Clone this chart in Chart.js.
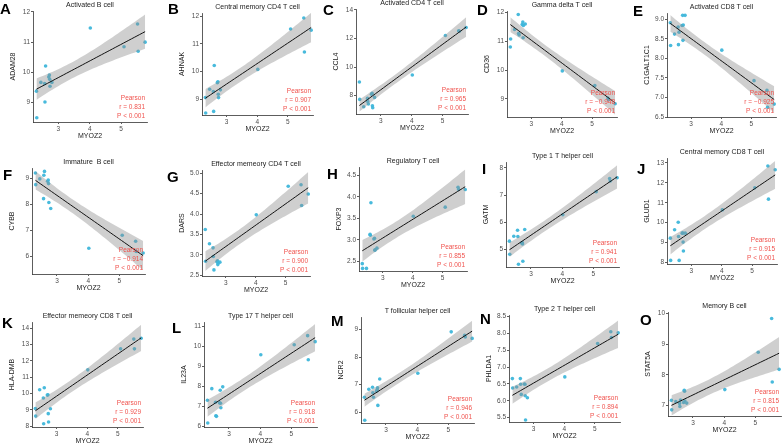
<!DOCTYPE html>
<html>
<head>
<meta charset="utf-8">
<script src="https://cdn.jsdelivr.net/npm/chart.js@4.4.1/dist/chart.umd.min.js"></script>
<style>
  html, body { margin: 0; padding: 0; background: #fff; overflow: hidden; }
  #fig { position: relative; width: 783px; height: 445px; font-family: "Liberation Sans", Arial, sans-serif; }
  #fig canvas { position: absolute; }
  .letter { position: absolute; font-weight: bold; font-size: 15px; line-height: 15px; color: #000; }
</style>
</head>
<body>
<div id="fig"></div>
<script>
// MYOZ2 expression, shared x of every panel (16 samples)
const myoz2 = [2.31, 2.32, 2.45, 2.57, 2.58, 2.60, 2.70, 2.72, 2.73, 2.74, 2.80, 4.02, 5.09, 5.52, 5.54, 5.76];

const letters = ['A', 'B', 'C', 'D', 'E', 'F', 'G', 'H', 'I', 'J', 'K', 'L', 'M', 'N', 'O'];
const cellTypes = ['Activated B cell', 'Central memory CD4 T cell', 'Activated CD4 T cell', 'Gamma delta T cell',
  'Activated CD8 T cell', 'Immature  B cell', 'Effector memeory CD4 T cell', 'Regulatory T cell',
  'Type 1 T helper cell', 'Central memory CD8 T cell', 'Effector memeory CD8 T cell', 'Type 17 T helper cell',
  'T follicular helper cell', 'Type 2 T helper cell', 'Memory B cell'];
const genes = ['ADAM28', 'AHNAK', 'CCL4', 'CD36', 'C1GALT1C1', 'CYBB', 'DARS', 'FOXP3', 'GATM', 'GLUD1',
  'HLA-DMB', 'IL23A', 'NCR2', 'PHLDA1', 'STAT5A'];
const pearsonR = ['0.831', '0.907', '0.965', '\u22120.948', '\u22120.925', '\u22120.914', '0.900', '0.855',
  '0.941', '0.915', '0.929', '0.918', '0.946', '0.894', '0.815'];

// y axis ranges and tick steps
const yMin  = [8.36, 8.43, 6.72, 8.37, 6.5, 5.33, 2.48, 2.28, 4.36, 7.92, 7.94, 5.97, 5.6, 5.37, 6.66];
const yMax  = [12.03, 12.12, 14.05, 12.05, 9.16, 9.41, 5.08, 4.69, 8.22, 13.25, 14.39, 11.2, 9.46, 8.55, 10.05];
const yStep = [1, 1, 2, 1, 0.5, 1, 0.5, 0.5, 1, 1, 1, 1, 1, 0.5, 1];

// expression of each gene, same sample order as myoz2
const adam28    = [9.38, 8.50, 9.67, 9.63, 9.02, 10.21, 9.85, 9.91, 9.77, 9.54, 9.67, 11.47, 10.85, 11.60, 10.70, 11.00];
const ahnak     = [9.06, 8.50, 9.36, 9.28, 8.56, 10.22, 9.60, 9.63, 9.18, 9.06, 9.34, 10.08, 11.54, 11.94, 10.71, 11.50];
const ccl4      = [8.95, 7.74, 7.23, 7.81, 7.60, 7.42, 8.10, 8.16, 7.30, 7.16, 7.88, 9.44, 12.20, 12.53, 12.50, 12.76];
const cd36      = [10.80, 11.08, 11.41, 11.93, 11.27, 11.22, 11.58, 11.67, 11.12, 11.55, 11.60, 9.97, 9.46, 9.03, 8.97, 8.83];
const c1galt1c1 = [8.91, 8.33, 8.62, 8.80, 8.35, 8.67, 8.84, 9.10, 8.46, 8.85, 9.10, 8.21, 7.43, 7.18, 6.75, 6.83];
const cybb      = [9.22, 8.77, 8.99, 8.23, 9.13, 9.28, 8.90, 8.95, 8.81, 8.08, 7.85, 6.32, 6.82, 6.59, 6.20, 6.14];
const dars      = [3.62, 2.84, 3.27, 3.17, 2.96, 2.63, 2.83, 2.85, 2.76, 2.80, 2.82, 3.98, 4.68, 4.72, 4.21, 4.49];
const foxp3     = [2.45, 2.34, 2.34, 3.13, 3.11, 3.86, 3.02, 3.04, 2.76, 2.77, 2.81, 3.55, 3.76, 4.22, 4.17, 4.17];
const gatm      = [5.31, 4.83, 5.49, 5.71, 5.48, 4.46, 5.24, 5.26, 5.21, 4.57, 5.74, 6.28, 7.13, 7.61, 7.52, 7.64];
const glud1     = [9.22, 8.10, 9.64, 10.02, 9.30, 8.10, 9.47, 9.47, 9.02, 8.57, 9.47, 10.64, 11.75, 12.85, 11.18, 12.66];
const hladmb    = [9.08, 8.61, 10.23, 9.72, 8.14, 10.35, 9.90, 9.92, 8.76, 8.25, 9.06, 11.45, 12.74, 13.34, 12.74, 13.39];
const il23a     = [7.30, 6.17, 7.88, 7.20, 6.53, 6.50, 7.17, 7.80, 7.15, 6.93, 7.97, 9.57, 10.07, 10.52, 9.32, 10.22];
const ncr2      = [6.54, 5.70, 6.83, 6.90, 6.70, 6.54, 6.76, 6.82, 6.88, 6.24, 7.20, 7.41, 8.92, 8.79, 8.73, 8.68];
const phlda1    = [6.66, 6.38, 6.41, 6.66, 6.49, 6.19, 6.50, 6.49, 6.15, 5.43, 6.09, 6.71, 7.70, 8.05, 7.88, 8.02];
const stat5a    = [7.17, 6.86, 7.13, 7.07, 6.97, 7.18, 7.10, 7.50, 7.47, 7.15, 7.08, 7.52, 8.74, 9.84, 7.77, 8.18];
const geneValues = [adam28, ahnak, ccl4, cd36, c1galt1c1, cybb, dars, foxp3, gatm, glud1, hladmb, il23a, ncr2, phlda1, stat5a];

// plot area of each panel [left, top, right, bottom] and panel letter [left, capTop]
const plotBoxes = [
  [33, 11, 148, 122], [202, 13, 314, 115], [356, 9, 469, 114], [507, 11, 618, 117], [667, 13, 777, 117],
  [32, 168, 146, 274], [202, 170, 311, 276], [359, 167, 468, 271], [506, 162, 620, 267], [667, 158, 778, 264],
  [32, 322, 144, 427], [204, 322, 318, 427], [361, 317, 475, 423], [509, 315, 621, 422], [668, 312, 782, 416]
];
const letterPos = [
  [0, 3], [168, 3], [323, 4], [477, 4], [633, 5],
  [3, 169], [167, 171], [327, 168], [482, 163], [637, 163],
  [2, 317], [172, 322], [331, 315], [480, 313], [640, 314]
];

const Y_AXIS_W = 28, X_AXIS_H = 22, PAD_TOP = 12, PAD_RIGHT = 3;
const T_975_DF14 = 2.145;

Chart.defaults.font.family = '"Liberation Sans", Arial, sans-serif';

// linear fit with 95% confidence band, like geom_smooth(method = "lm")
function linearFit(xs, ys) {
  const n = xs.length;
  const mx = xs.reduce((a, b) => a + b, 0) / n;
  const my = ys.reduce((a, b) => a + b, 0) / n;
  let sxx = 0, sxy = 0;
  xs.forEach((x, i) => { sxx += (x - mx) ** 2; sxy += (x - mx) * (ys[i] - my); });
  const b = sxy / sxx, a = my - b * mx;
  let sse = 0;
  xs.forEach((x, i) => { sse += (ys[i] - a - b * x) ** 2; });
  const s = Math.sqrt(sse / (n - 2));
  const lo = Math.min(...xs), hi = Math.max(...xs);
  const line = [], upper = [], lower = [];
  const steps = 40;
  for (let k = 0; k <= steps; k++) {
    const x = lo + (hi - lo) * k / steps;
    const y = a + b * x;
    const se = s * Math.sqrt(1 / n + (x - mx) ** 2 / sxx);
    line.push({ x, y });
    upper.push({ x, y: y + T_975_DF14 * se });
    lower.push({ x, y: y - T_975_DF14 * se });
  }
  return { line, upper, lower };
}

// panel title above the plot and the red Pearson note in the corner
const panelText = {
  id: 'panelText',
  afterDraw(chart, args, opts) {
    const { ctx, chartArea: a } = chart;
    ctx.save();
    ctx.font = '7px "Liberation Sans", Arial, sans-serif';
    ctx.textBaseline = 'middle';
    ctx.textAlign = 'center';
    ctx.fillStyle = '#222';
    ctx.fillText(opts.title, (a.left + a.right) / 2, a.top - 6);
    ctx.font = '6.5px "Liberation Sans", Arial, sans-serif';
    ctx.textAlign = 'right';
    ctx.fillStyle = '#f0524d';
    opts.lines.forEach((t, i) => ctx.fillText(t, a.right - 2, a.bottom - 6 - (opts.lines.length - 1 - i) * 8.7));
    ctx.restore();
  }
};

const fig = document.getElementById('fig');

geneValues.forEach((ys, p) => {
  const [pl, pt, pr, pb] = plotBoxes[p];
  const left = pl - Y_AXIS_W, top = pt - PAD_TOP;
  const width = pr + PAD_RIGHT - left, height = pb + X_AXIS_H - top;

  const canvas = document.createElement('canvas');
  canvas.width = width;
  canvas.height = height;
  canvas.style.left = left + 'px';
  canvas.style.top = top + 'px';
  canvas.style.width = width + 'px';
  canvas.style.height = height + 'px';
  fig.appendChild(canvas);

  const letter = document.createElement('div');
  letter.className = 'letter';
  letter.textContent = letters[p];
  letter.style.left = letterPos[p][0] + 'px';
  letter.style.top = (letterPos[p][1] - 2) + 'px';
  fig.appendChild(letter);

  const fit = linearFit(myoz2, ys);
  const points = myoz2.map((x, i) => ({ x, y: ys[i] }));
  const decimals = yStep[p] < 1 ? 1 : 0;

  const axisGrid = { display: true, drawOnChartArea: false, drawTicks: true, tickLength: 2, color: '#333', lineWidth: 0.8 };
  const axisBorder = { display: true, color: '#333', width: 0.8 };
  const tickFont = { size: 6.5 };

  new Chart(canvas, {
    type: 'scatter',
    data: {
      datasets: [
        { type: 'line', data: fit.upper, borderWidth: 0, borderColor: 'transparent', pointRadius: 0, fill: false, order: 1 },
        { type: 'line', data: fit.lower, borderWidth: 0, borderColor: 'transparent', pointRadius: 0, fill: '-1',
          backgroundColor: 'rgba(140,140,140,0.42)', order: 1 },
        { type: 'line', data: fit.line, borderColor: '#111', borderWidth: 1, pointRadius: 0, fill: false, order: 0 },
        { data: points, backgroundColor: 'rgba(62,182,218,0.95)', borderWidth: 0, pointRadius: 1.8, order: 2 }
      ]
    },
    options: {
      responsive: false,
      animation: false,
      devicePixelRatio: 1,
      events: [],
      layout: { padding: { top: PAD_TOP, right: PAD_RIGHT, left: 0, bottom: 0 } },
      plugins: {
        legend: { display: false },
        tooltip: { enabled: false },
        panelText: { title: cellTypes[p], lines: ['Pearson', 'r = ' + pearsonR[p], 'P < 0.001'] }
      },
      scales: {
        x: {
          type: 'linear', min: 2.2, max: 5.82,
          grid: axisGrid, border: axisBorder,
          ticks: { stepSize: 1, includeBounds: false, padding: 1, color: '#4d4d4d', font: tickFont, maxRotation: 0 },
          title: { display: true, text: 'MYOZ2', color: '#222', font: { size: 7 }, padding: { top: 0, bottom: 3.5 } },
          afterFit: s => { s.height = X_AXIS_H; }
        },
        y: {
          type: 'linear', min: yMin[p], max: yMax[p],
          grid: axisGrid, border: axisBorder,
          ticks: { stepSize: yStep[p], includeBounds: false, padding: 1, color: '#4d4d4d', font: tickFont,
            callback: v => v.toFixed(decimals) },
          title: { display: true, text: genes[p], color: '#222', font: { size: 7 }, padding: { top: 4, bottom: 0 } },
          afterFit: s => { s.width = Y_AXIS_W; }
        }
      }
    },
    plugins: [panelText]
  });
});
</script>
</body>
</html>
